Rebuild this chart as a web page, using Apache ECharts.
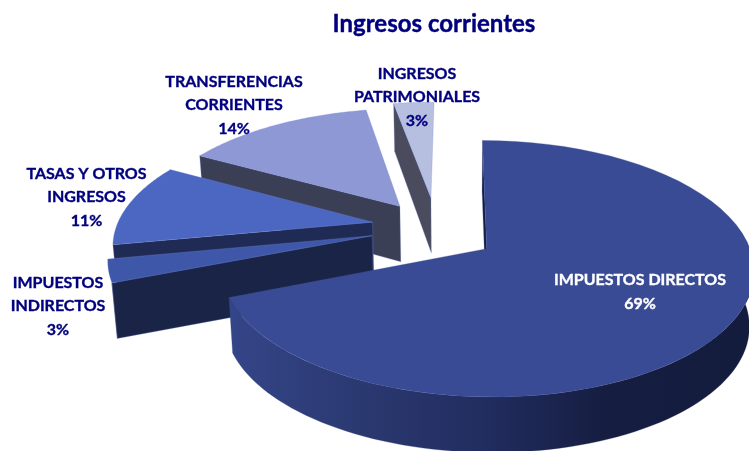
<!DOCTYPE html>
<html>
<head>
<meta charset="utf-8">
<style>html,body{margin:0;padding:0;background:#fff}#c{width:749px;height:451px}</style>
<script src="https://cdn.jsdelivr.net/npm/echarts@6.0.0/dist/echarts.min.js"></script>
</head>
<body>
<div id="c"></div>
<script>
// ---- data ----
var chartTitle = 'Ingresos corrientes';
var categories = ['IMPUESTOS DIRECTOS', 'IMPUESTOS\nINDIRECTOS', 'TASAS Y OTROS\nINGRESOS', 'TRANSFERENCIAS\nCORRIENTES', 'INGRESOS\nPATRIMONIALES'];
var values = [69, 3, 11, 14, 3];

// ---- style and layout (not data) ----
var faceColors = ['#394b94', '#3f57a8', '#4b67c1', '#8e98d5', '#b6bfe0'];
var wallColors = ['#141c3e', '#1a2447', '#1f2a55', '#3b3f55', '#4a4c5e'];
var labelColors = ['#ffffff', '#00007f', '#00007f', '#00007f', '#00007f'];
var labelAnchors = [[640, 268.5], [58, 271], [86.5, 162], [234, 70], [417, 62]];
var drawOrder = [50, 40, 30, 20, 10];
var outlineColor = 'rgba(120,140,215,0.4)';
var labelFont = 'bold 16px Lato, sans-serif';
var labelLine = 23.4;

var vanishX = 455, vanishY = -551, depthK = 799, perspective = 0.1563, radiusX = 263;
var pieX = -0.074, pieY = 0.165, explode = 0.25;
var nudgeX = [-0.012, -0.006, -0.003, 0, 0], nudgeY = [-0.03, 0.005, 0.01, -0.015, 0.015];
var wallConverge = 0.016, arcWallFrom = 90, arcWallTo = 248.4;

function project(X, Y) {
  var w = 1 + perspective * Y;
  return [vanishX + radiusX * X / w, vanishY + depthK / w];
}
function drop(p) {
  var depth = Math.min(55.5, 48 + (p[1] - 107) * 0.08);
  return [p[0] + (vanishX - p[0]) * wallConverge, p[1] + depth];
}
var rad = Math.PI / 180;

var total = values.reduce(function (a, b) { return a + b; }, 0);
var rows = [], running = 0;
values.forEach(function (v) { rows.push([v, running]); running += v; });

function renderItem(params, api) {
  var i = params.dataIndex;
  var a0 = api.value(1) / total * 360;
  var a1 = a0 + api.value(0) / total * 360;
  var mid = (a0 + a1) / 2 * rad;
  var ax = pieX + explode * Math.sin(mid) + nudgeX[i];
  var ay = pieY + explode * Math.cos(mid) + nudgeY[i];
  function rim(deg) {
    return project(ax + Math.sin(deg * rad), ay + Math.cos(deg * rad));
  }
  var apex = project(ax, ay);
  var base = drawOrder[i];
  var children = [];
  function poly(points, fill, z, line) {
    children.push({
      type: 'polygon', z2: base + z, silent: true,
      shape: { points: points },
      style: { fill: fill, stroke: line || fill, lineWidth: line ? 0.7 : 0.3 }
    });
  }
  if (Math.sin(a0 * rad) < 1e-6) {
    var e0 = rim(a0);
    poly([apex, e0, drop(e0), drop(apex)], wallColors[i], 0, outlineColor);
  }
  if (Math.sin(a1 * rad) > 1e-6) {
    var e1 = rim(a1);
    poly([apex, e1, drop(e1), drop(apex)], wallColors[i], 0, outlineColor);
  }
  var from = Math.max(a0, arcWallFrom), to = Math.min(a1, arcWallTo);
  if (from < to) {
    var topEdge = [], botEdge = [];
    for (var k = 0; k <= 80; k++) {
      var p = rim(from + (to - from) * k / 80);
      topEdge.push(p);
      botEdge.unshift(drop(p));
    }
    poly(topEdge.concat(botEdge), {
      type: 'linear', x: 0, y: 0, x2: 1, y2: 0,
      colorStops: [
        { offset: 0, color: '#344588' },
        { offset: 0.25, color: '#2b3971' },
        { offset: 0.5, color: '#212c5e' },
        { offset: 0.72, color: '#151d40' },
        { offset: 1, color: wallColors[i] }
      ]
    }, 1);
  }
  var face = [apex];
  for (var s = 0; s <= 60; s++) face.push(rim(a0 + (a1 - a0) * s / 60));
  poly(face, faceColors[i], 2, i === 0 ? null : outlineColor);
  children.push({
    type: 'text', z2: 200, silent: true,
    x: labelAnchors[i][0], y: labelAnchors[i][1],
    style: {
      text: categories[i] + '\n' + api.value(0) + '%',
      font: labelFont, lineHeight: labelLine,
      fill: labelColors[i], align: 'center', verticalAlign: 'top',
      stroke: labelColors[i], lineWidth: 0.35
    }
  });
  return { type: 'group', children: children };
}

var chart = echarts.init(document.getElementById('c'), null, { renderer: 'canvas' });
chart.setOption({
  animation: false,
  backgroundColor: '#ffffff',
  title: {
    text: chartTitle, left: 429, top: 7, textAlign: 'center',
    textStyle: {
      color: '#00007f', fontFamily: 'Lato, sans-serif', fontWeight: 'bold', fontSize: 24,
      textBorderColor: '#00007f', textBorderWidth: 0.4
    }
  },
  series: [{
    type: 'custom', coordinateSystem: 'none', renderItem: renderItem,
    clip: false, data: rows
  }]
});
</script>
</body>
</html>
